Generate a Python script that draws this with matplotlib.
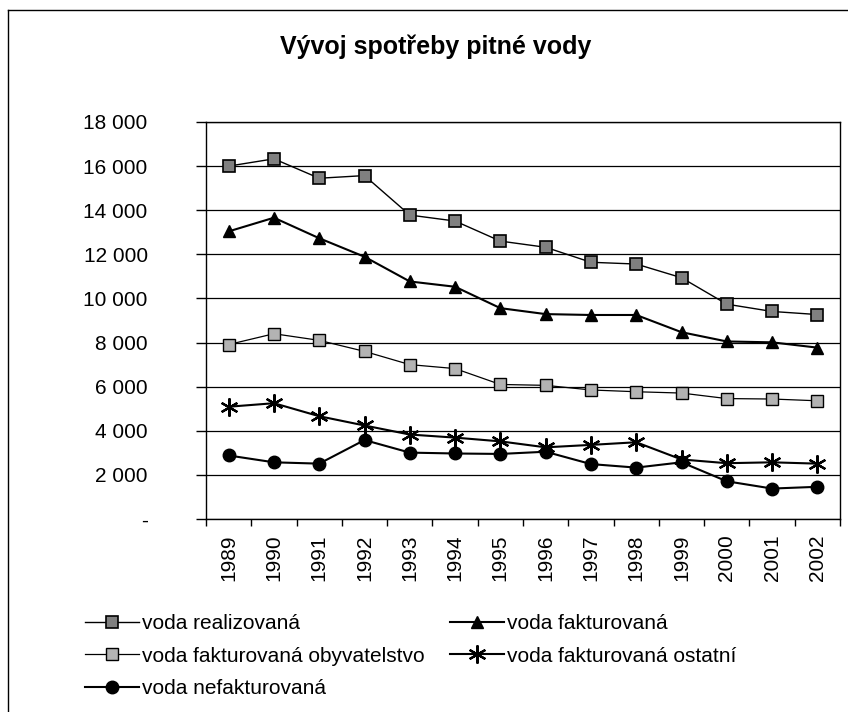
import matplotlib
matplotlib.use("Agg")
import matplotlib.pyplot as plt
from matplotlib.lines import Line2D
import numpy as np

plt.rcParams["font.family"] = ["Liberation Sans", "DejaVu Sans"]

# --- data ---
years = ["1989", "1990", "1991", "1992", "1993", "1994", "1995",
         "1996", "1997", "1998", "1999", "2000", "2001", "2002"]
realizovana = [16000, 16330, 15450, 15570, 13780, 13510, 12600,
               12320, 11640, 11560, 10940, 9740, 9410, 9270]
fakturovana = [13040, 13660, 12730, 11890, 10770, 10530, 9560,
               9290, 9250, 9250, 8470, 8050, 8010, 7770]
obyvatelstvo = [7910, 8400, 8100, 7600, 7000, 6820, 6100,
                6060, 5850, 5770, 5710, 5460, 5440, 5360]
ostatni = [5090, 5250, 4660, 4240, 3830, 3690, 3520,
           3250, 3360, 3480, 2700, 2530, 2570, 2510]
nefakturovana = [2880, 2570, 2510, 3580, 3010, 2970, 2950,
                 3050, 2490, 2330, 2570, 1710, 1380, 1460]
y_ticks = [0, 2000, 4000, 6000, 8000, 10000, 12000, 14000, 16000, 18000]

W, H = 848, 712
fig = plt.figure(figsize=(W / 100, H / 100), dpi=100)
ax = fig.add_axes([206 / W, 1 - 519 / H, (840 - 206) / W, (519 - 122) / H])

x = np.arange(len(years))

# gridlines first so the lines sit on top
ax.set_axisbelow(True)
ax.yaxis.grid(True, color="black", linewidth=0.9)

h1, = ax.plot(x, realizovana, color="black", linewidth=1.0, marker="s",
              markersize=9, markerfacecolor="0.5", markeredgecolor="black",
              markeredgewidth=1.2, label="voda realizovaná")
h2, = ax.plot(x, fakturovana, color="black", linewidth=1.5, marker="^",
              markersize=9, markerfacecolor="black", markeredgecolor="black",
              label="voda fakturovaná")
h3, = ax.plot(x, obyvatelstvo, color="black", linewidth=0.9, marker="s",
              markersize=9, markerfacecolor="0.7", markeredgecolor="black",
              markeredgewidth=1.0, label="voda fakturovaná obyvatelstvo")
h4, = ax.plot(x, ostatni, color="black", linewidth=1.5, marker=(6, 2, 0),
              markersize=13, markeredgewidth=1.6, markeredgecolor="black",
              label="voda fakturovaná ostatní")
h5, = ax.plot(x, nefakturovana, color="black", linewidth=1.5, marker="o",
              markersize=9, markerfacecolor="black", markeredgecolor="black",
              label="voda nefakturovaná")

# axes
ax.set_xlim(-0.5, len(years) - 0.5)
ax.set_ylim(0, 18000)
ax.set_yticks(y_ticks)
ax.set_yticklabels(["-"] + [f"{v:,}".replace(",", " ") for v in y_ticks[1:]])
ax.tick_params(axis="y", direction="out", length=7, width=1, pad=35,
               labelsize=15)

# tick marks between categories, labels centred on categories
ax.set_xticks(np.arange(-0.5, len(years), 1))
ax.set_xticklabels([])
ax.set_xticks(x, minor=True)
ax.set_xticklabels(years, minor=True, rotation=90)
ax.tick_params(axis="x", which="major", direction="out", length=5, width=1)
ax.tick_params(axis="x", which="minor", length=0, pad=11, labelsize=15)

for s in ax.spines.values():
    s.set_color("black")
    s.set_linewidth(1.0)

# title
fig.text(436 / W, 1 - 47 / H, "Vývoj spotřeby pitné vody", ha="center",
         va="center", fontsize=18, fontweight="bold")

# legend, filled row by row like the original
leg = fig.legend(handles=[h1, h3, h5, h2, h4], ncol=2, frameon=False,
                 loc="upper left", bbox_to_anchor=(85 / W, 1 - 614 / H),
                 fontsize=15, handlelength=2.6, handletextpad=0.15,
                 columnspacing=1.2, labelspacing=0.66, borderpad=0,
                 borderaxespad=0)

# frame round the whole chart (left and top edges are visible)
fig.add_artist(Line2D([8 / W, 8 / W], [0, 1 - 10 / H], color="black",
                      linewidth=1, transform=fig.transFigure))
fig.add_artist(Line2D([8 / W, 1], [1 - 10 / H, 1 - 10 / H], color="black",
                      linewidth=1, transform=fig.transFigure))

fig.savefig("out.png", dpi=100)
